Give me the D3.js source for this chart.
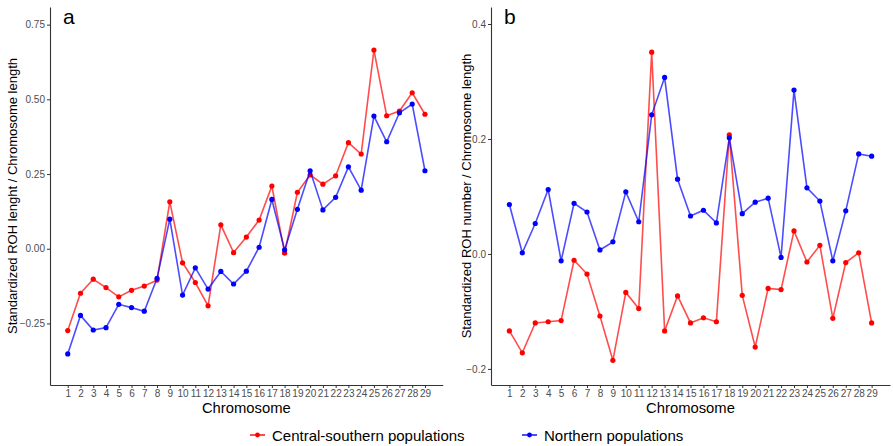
<!DOCTYPE html>
<html lang="en">
<head>
<meta charset="utf-8">
<title>ROH by chromosome</title>
<script src="https://cdn.jsdelivr.net/npm/d3@7"></script>
<style>
  body { margin: 0; background: #fff; }
  text { font-family: "Liberation Sans", Arial, sans-serif; }
</style>
</head>
<body>
<script>
var w = 893;
var h = 446;

var chromosomes = d3.range(1, 30).map(String);

// panel a: standardized ROH length / chromosome length
var lengthSouth = [-0.274, -0.149, -0.102, -0.130, -0.161, -0.139, -0.125, -0.105, 0.157, -0.047,
                   -0.113, -0.191, 0.080, -0.013, 0.039, 0.096, 0.210, -0.015, 0.189, 0.247,
                   0.216, 0.244, 0.355, 0.317, 0.665, 0.445, 0.461, 0.522, 0.450];
var lengthNorth = [-0.352, -0.223, -0.272, -0.264, -0.186, -0.197, -0.209, -0.099, 0.099, -0.155,
                   -0.064, -0.135, -0.076, -0.118, -0.075, 0.005, 0.165, -0.004, 0.132, 0.261,
                   0.130, 0.172, 0.274, 0.196, 0.444, 0.358, 0.455, 0.484, 0.261];

// panel b: standardized ROH number / chromosome length
var numberSouth = [-0.134, -0.172, -0.120, -0.118, -0.116, -0.011, -0.035, -0.108, -0.185, -0.067,
                   -0.095, 0.351, -0.134, -0.073, -0.120, -0.111, -0.118, 0.207, -0.072, -0.162,
                   -0.060, -0.062, 0.040, -0.014, 0.015, -0.112, -0.015, 0.002, -0.120];
var numberNorth = [0.086, 0.002, 0.053, 0.112, -0.012, 0.088, 0.073, 0.007, 0.021, 0.108,
                   0.056, 0.242, 0.307, 0.130, 0.066, 0.076, 0.054, 0.202, 0.070, 0.090,
                   0.097, -0.006, 0.285, 0.115, 0.092, -0.012, 0.075, 0.174, 0.170];

var ticksA = [-0.25, 0, 0.25, 0.5, 0.75];
var ticksB = [-0.2, 0, 0.2, 0.4];

var seriesNames = ["Central-southern populations", "Northern populations"];
var colors = ["#ff0000", "#0000ff"];

var plotTop = 7, plotBottom = 385;

var svg = d3.select("body").append("svg")
  .attr("width", w)
  .attr("height", h);

function panel(opts) {
  var x = d3.scalePoint()
    .domain(chromosomes)
    .range([opts.left, opts.right])
    .padding(opts.pad);

  var y = d3.scaleLinear()
    .domain(opts.domain)
    .range([plotBottom, plotTop]);

  var g = svg.append("g");

  var xAxis = g.append("g")
    .attr("transform", "translate(0," + plotBottom + ")")
    .call(d3.axisBottom(x).tickSizeInner(3).tickSizeOuter(0).tickPadding(2));

  var yAxis = g.append("g")
    .attr("transform", "translate(" + opts.left + ",0)")
    .call(d3.axisLeft(y).tickValues(opts.ticks).tickFormat(opts.fmt)
      .tickSizeInner(3).tickSizeOuter(0).tickPadding(2));

  [xAxis, yAxis].forEach(function(a) {
    a.select(".domain").attr("stroke", "#333").attr("stroke-width", 1.1);
    a.selectAll(".tick line").attr("stroke", "#333");
    a.selectAll(".tick text").attr("fill", "#4d4d4d").attr("font-size", "10px");
  });

  var line = d3.line()
    .x(function(d, i) { return x(chromosomes[i]); })
    .y(function(d) { return y(d); });

  opts.series.forEach(function(s, k) {
    g.append("path")
      .datum(s)
      .attr("d", line)
      .attr("fill", "none")
      .attr("stroke", colors[k])
      .attr("stroke-opacity", 0.7)
      .attr("stroke-width", 1.6);

    g.selectAll(".pt" + k)
      .data(s)
      .enter()
      .append("circle")
      .attr("class", "pt" + k)
      .attr("cx", function(d, i) { return x(chromosomes[i]); })
      .attr("cy", function(d) { return y(d); })
      .attr("r", 2.6)
      .attr("fill", colors[k]);
  });

  g.append("text")
    .text(opts.label)
    .attr("x", opts.left + 13)
    .attr("y", 24)
    .attr("font-size", "21px")
    .attr("fill", "#000");

  g.append("text")
    .text("Chromosome")
    .attr("x", (opts.left + opts.right) / 2)
    .attr("y", 413)
    .attr("text-anchor", "middle")
    .attr("font-size", "14.8px")
    .attr("fill", "#000");

  g.append("text")
    .text(opts.title)
    .attr("transform", "translate(" + opts.titleX + "," + ((plotTop + plotBottom) / 2) + ") rotate(-90)")
    .attr("text-anchor", "middle")
    .attr("font-size", "13px")
    .attr("fill", "#000");
}

panel({
  left: 50, right: 442.7, pad: 1.39,
  domain: [-0.456, 0.809], ticks: ticksA, fmt: d3.format(".2f"),
  series: [lengthSouth, lengthNorth], label: "a",
  title: "Standardized ROH lenght / Chromosome length", titleX: 17
});

panel({
  left: 491, right: 890, pad: 1.42,
  domain: [-0.228, 0.4296], ticks: ticksB, fmt: d3.format(".1f"),
  series: [numberSouth, numberNorth], label: "b",
  title: "Standardized ROH number / Chromosome length", titleX: 471
});

// legend
var legendX = [250, 522];
var legend = svg.append("g");
seriesNames.forEach(function(name, k) {
  legend.append("line")
    .attr("x1", legendX[k]).attr("x2", legendX[k] + 15)
    .attr("y1", 435).attr("y2", 435)
    .attr("stroke", colors[k]).attr("stroke-width", 1.4);
  legend.append("circle")
    .attr("cx", legendX[k] + 7.5).attr("cy", 435).attr("r", 2.4)
    .attr("fill", colors[k]);
  legend.append("text")
    .text(name)
    .attr("x", legendX[k] + 22)
    .attr("y", 440.5)
    .attr("font-size", "15px")
    .attr("fill", "#000");
});
</script>
</body>
</html>
